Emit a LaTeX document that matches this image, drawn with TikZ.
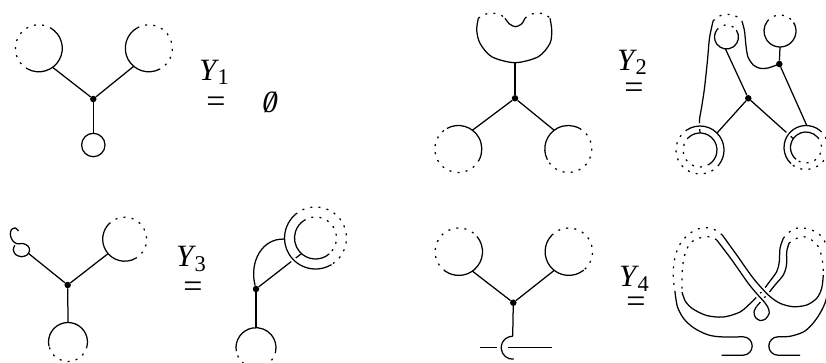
\documentclass[tikz,border=0pt]{standalone}
\usepackage{fontspec}
\setmainfont{Liberation Serif}

\tikzset{
  strand/.style={line width=1.25pt},
  dotarc/.style={line width=1.25pt, dash pattern=on 2pt off 6.2pt},
  overpass/.style={preaction={draw=white, line width=5.5pt}},
  vtx/.style={circle, fill, inner sep=0pt, minimum size=6.5pt},
  lbl/.style={font=\fontsize{31}{33}\selectfont, inner sep=0pt}
}
% leaf: solid arc from #4 to #5, dotted for the rest of the circle
\newcommand\leaf[5][]{%
  \draw[strand,#1] ([shift={(#4:#3)}]#2) arc[start angle=#4, end angle=#5, radius=#3];
  \draw[dotarc] ([shift={(#5:#3)}]#2) arc[start angle=#5, end angle={#4+360}, radius=#3];}
\newcommand\yname[1]{\textit{Y}\kern-1.5pt\raisebox{-4.5pt}{\fontsize{22.5}{24}\selectfont #1}}
% Y_i with the = sign set #2 below it
\newsavebox\ybox
\newcommand\ylabel[2]{\sbox\ybox{\yname{#1}}\rlap{\usebox\ybox}%
  \makebox[\wd\ybox]{\kern4pt\raisebox{-#2}{\fontsize{34}{36}\selectfont =}}}

\begin{document}
\begin{tikzpicture}[x=1pt, y=-1pt]
\useasboundingbox (0,0) rectangle (826,362);

% Y1
\node[vtx] (v1) at (93.3,99) {};
\coordinate (L1) at (38.8,48.3);
\coordinate (R1) at (148.8,48.3);
\coordinate (S1) at (93.3,145);
\leaf{L1}{23.5}{-61}{118}
\leaf{R1}{23.5}{62}{241}
\draw[strand] (S1) circle[radius=11.7];
\draw[strand] (v1) -- ([shift={(54:23.5)}]L1);
\draw[strand] (v1) -- ([shift={(130:23.5)}]R1);
\draw[strand] (v1) -- ([shift={(-90:11.7)}]S1);
\node[lbl, anchor=base west] (y1) at (199,80) {\ylabel{1}{32.4pt}};
\node[lbl] (void) at (270,102.5) {\itshape\makebox[0pt]{0}\makebox[0pt]{/}};

% Y2, left side
\node[vtx] (v2) at (515,98.3) {};
\coordinate (u2) at (515,62.7);
\coordinate (L2) at (458.3,149);
\coordinate (R2) at (568.3,149);
\draw[strand] plot[smooth] coordinates {(478.3,18.3) (476.7,30) (480,43.3) (491.7,56.7) (515,62.7) (538.3,56.7) (550,43.3) (551.7,30) (550,18.3)};
\draw[dotarc] plot[smooth] coordinates {(478.3,18.3) (485,14.2) (493,13.2) (500,14.5) (505,18.3)};
\draw[strand] plot[smooth] coordinates {(505,18.3) (509.5,24) (515.5,26.7) (521.5,24) (525,18.3)};
\draw[dotarc] plot[smooth] coordinates {(525,18.3) (530,14.5) (538,13.2) (545,14.2) (550,18.3)};
\draw[strand] (u2) -- (v2);
\leaf{L2}{23.5}{-119}{27}
\leaf{R2}{23.5}{153}{299}
\draw[strand] (v2) -- ([shift={(-53:23.5)}]L2);
\draw[strand] (v2) -- ([shift={(233:23.5)}]R2);
\node[lbl, anchor=base west] (y2) at (617,70) {\ylabel{2}{28.7pt}};

% Y2, right side
\node[vtx] (v2a) at (779.3,64) {};
\node[vtx] (v2b) at (748.3,98.3) {};
\coordinate (T2) at (726.5,37);
\coordinate (Q2) at (780,31);
\coordinate (A2) at (727.5,33);
\coordinate (D2L) at (700,150);
\coordinate (D2R) at (806,147.5);
\draw[strand] plot[smooth] coordinates {(700,133) (699.5,120) (701.7,106.7) (704.5,88) (707.5,60) (709.5,38) (713.1,20.9)};
\draw[dotarc] ([shift={(-140:18.8)}]A2) arc[start angle=-140, end angle=-40, radius=18.8];
\draw[strand] plot[smooth] coordinates {(741.9,20.9) (744.5,31) (746,46) (748,57) (753.3,65) (760,68.3) (768,68) (779.3,64)};
\draw[strand] (v2b) -- ([shift={(215:15.5)}]D2R);
\leaf{D2L}{17}{-139}{56}
\leaf{D2R}{15.5}{130}{319}
\leaf[overpass]{D2L}{24}{-125}{37}
\leaf[overpass]{D2R}{22}{133}{310}
\draw[strand] (v2b) -- ([shift={(-45:24)}]D2L);
\draw[strand] (v2a) -- ([shift={(272:22)}]D2R);
\leaf{T2}{12}{-35}{217}
\leaf{Q2}{16}{-32}{218}
\draw[strand] (v2b) -- ([shift={(95:12)}]T2);
\draw[strand] (v2a) -- ([shift={(90:16)}]Q2);

% Y3, left side
\node[vtx] (v3) at (67.7,285) {};
\coordinate (k3) at (28.6,253.5);
\coordinate (R3) at (124.7,239.2);
\coordinate (B3) at (68,342);
\draw[strand] plot[smooth] coordinates {(18.5,231) (15.5,228) (11.5,229.5) (10.3,234.5) (12.5,240.5) (17,243.8) (23,243.5) (28,246) (29.6,250.5) (27,255) (21.5,256.7) (15.5,254.5) (13.3,249.5) (14.8,245.3)};
\draw[strand] (v3) -- (k3);
\leaf{R3}{22}{60}{224}
\leaf{B3}{19.5}{-193}{13}
\draw[strand] (v3) -- ([shift={(139:22)}]R3);
\draw[strand] (v3) -- ([shift={(-90:19.5)}]B3);
\node[lbl, anchor=base west] (y3) at (176,266.7) {\ylabel{3}{30.5pt}};

% Y3, right side
\node[vtx] (v3r) at (256,289) {};
\coordinate (B3r) at (256,347.7);
\coordinate (D3) at (315.5,238);
\draw[strand] (v3r) -- ([shift={(132:21)}]D3);
\leaf{D3}{21}{49}{236}
\leaf[overpass]{D3}{31}{59}{230}
\draw[strand] (v3r) .. controls (249,262) and (262,238) .. ([shift={(178:31)}]D3);
\leaf{B3r}{20}{-190}{10}
\draw[strand] (v3r) -- ([shift={(-90:20)}]B3r);

% Y4, left side
\node[vtx] (v4) at (513.3,302.7) {};
\coordinate (L4) at (458.8,251.7);
\coordinate (R4) at (568.8,251.7);
\coordinate (C4) at (512.7,347.7);
\coordinate (h1) at (480,347.7);
\coordinate (h2) at (496.7,347.7);
\coordinate (h3) at (508.3,347.7);
\coordinate (h4) at (551.7,347.7);
\leaf{L4}{23.7}{-40}{125}
\leaf{R4}{23.7}{51}{224}
\draw[strand] (v4) -- ([shift={(55:23.7)}]L4);
\draw[strand] (v4) -- ([shift={(128:23.7)}]R4);
\draw[strand] (v4) -- ([shift={(270:11.5)}]C4);
\draw[strand] ([shift={(85:11.5)}]C4) arc[start angle=85, end angle=270, radius=11.5];
\draw[strand] (h1) -- (h2);
\draw[strand] (h3) -- (h4);
\node[lbl, anchor=base west] (y4) at (619,286.7) {\ylabel{4}{25.3pt}};

% Y4, right side: the band
\draw[dotarc] plot[smooth] coordinates {(722.3,235) (711.7,228.3) (700,228.3) (690,233.3) (681,242.5) (675.5,255) (673.3,270) (673.8,283) (675,292)};
\draw[strand] plot[smooth] coordinates {(675,292) (677.5,307) (684,319) (694,328) (707,334.5) (720,336.8) (743,336.8)} arc[start angle=-90, end angle=90, radius=9.2] -- (721.7,355.2);
\draw[dotarc] plot[smooth] coordinates {(783.3,238.3) (793.3,229) (805,228.3) (816.7,232.3) (824,240) (829,253) (831,267) (829,280)};
\draw[strand] plot[smooth] coordinates {(829,280) (826,300) (820,313.3) (812,324.5) (803.3,332) (790,336.3) (778,336.8)} arc[start angle=-90, end angle=-270, radius=9.2] -- (800,355.2);
\draw[dotarc] plot[smooth] coordinates {(716.7,240) (710,236.7) (698.3,238.3) (690,243.5) (685,254) (682.5,267) (682,280) (682,292)};
\draw[strand] plot[smooth] coordinates {(682,292) (685.5,301.5) (693,309) (706.7,315.5) (723.3,317) (740,312) (751.7,302) (757.5,296) (763.3,290) (768.3,283.3) (776.7,271.7) (779.3,261.7) (780,248.3) (783.3,238.3)};
\draw[dotarc] plot[smooth] coordinates {(789,243.3) (794,239.5) (803.3,236.7) (811.7,240) (818.3,246.7) (821.7,256.7) (823,266) (823.3,275)};
\draw[strand] plot[smooth] coordinates {(789,243.3) (786.7,251.7) (786.5,265) (783.3,275) (775,285) (768.3,293.3) (762,300.3) (756.5,306.5)};
\draw[strand,overpass] plot[smooth] coordinates {(756.5,306.5) (754,312) (755.5,317.5) (760,320.5) (765.5,319) (769.3,313) (767.5,306.5) (763,300.5) (757,294) (748,283) (731.5,259.5) (716.7,240)};
\draw[strand,overpass] plot[smooth] coordinates {(722.3,235) (736.7,255) (753.3,278.3) (768.3,295) (780,303.3) (793.3,306.7) (806.7,305) (816.7,298.3) (821.7,288.3) (823.3,275)};
\end{tikzpicture}
\end{document}
